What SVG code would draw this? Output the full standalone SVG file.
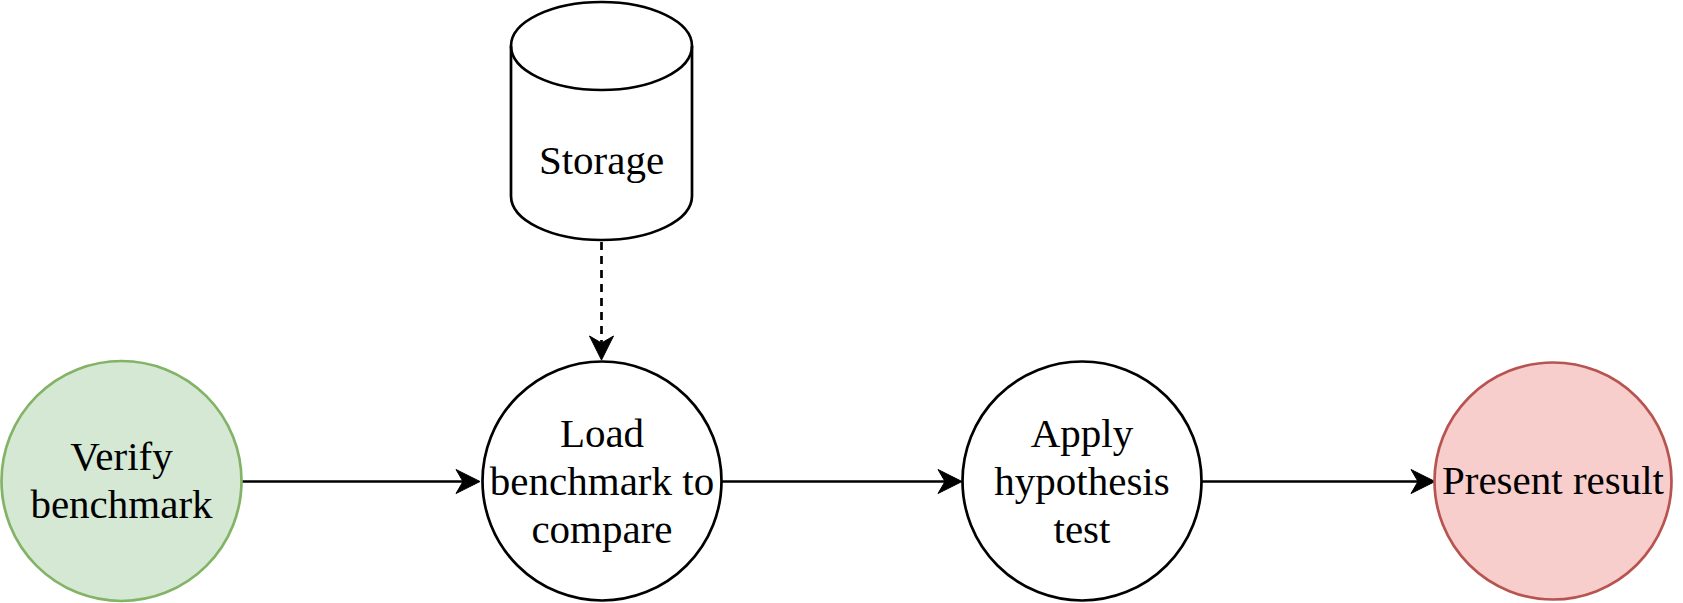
<svg xmlns="http://www.w3.org/2000/svg" width="1683" height="603" viewBox="0 0 1683 603">
<style>
  .lbl { font-family: "Liberation Serif", "Times New Roman", serif; font-size: 41px; fill: #000000; text-anchor: middle; }
  .node { stroke-width: 2.7; }
  .plain { fill: #ffffff; stroke: #000000; }
  .edge { stroke: #000000; stroke-width: 2.7; fill: none; }
  .dashed { stroke-dasharray: 8 6; }
</style>
<defs>
  <marker id="arrow" markerUnits="userSpaceOnUse" markerWidth="30" markerHeight="30" viewBox="0 0 30 30" refX="12" refY="15" orient="auto">
    <path d="M4,3 L28,15 L4,27 L11,15 Z" fill="#000000" stroke="#000000" stroke-width="1" stroke-linejoin="miter"/>
  </marker>
</defs>
<rect x="0" y="0" width="1683" height="603" fill="#ffffff"/>
<g id="connectors">
  <line class="edge" x1="242" y1="481.5" x2="464" y2="481.5" marker-end="url(#arrow)"/>
  <line class="edge" x1="722" y1="481.5" x2="946" y2="481.5" marker-end="url(#arrow)"/>
  <line class="edge" x1="1202" y1="481.5" x2="1419" y2="481.5" marker-end="url(#arrow)"/>
  <line class="edge dashed" x1="601.5" y1="242" x2="601.5" y2="344" marker-end="url(#arrow)"/>
</g>
<g id="storage">
  <path class="node plain" d="M511,46 A90.5,44 0 0 1 692,46 L692,196 A90.5,44 0 0 1 511,196 Z"/>
  <path class="node" fill="none" stroke="#000000" d="M511,46 A90.5,44 0 0 0 692,46"/>
  <text class="lbl" x="601.5" y="174">Storage</text>
</g>
<g id="verify">
  <circle class="node" cx="121.5" cy="481" r="120" fill="#d5e8d4" stroke="#82b366"/>
  <text class="lbl" x="121.5" y="470">Verify</text>
  <text class="lbl" x="121.5" y="518">benchmark</text>
</g>
<g id="load">
  <circle class="node plain" cx="602" cy="481" r="119.5"/>
  <text class="lbl" x="602" y="447">Load</text>
  <text class="lbl" x="602" y="495">benchmark to</text>
  <text class="lbl" x="602" y="543">compare</text>
</g>
<g id="apply">
  <circle class="node plain" cx="1082" cy="481" r="119.5"/>
  <text class="lbl" x="1082" y="447">Apply</text>
  <text class="lbl" x="1082" y="495">hypothesis</text>
  <text class="lbl" x="1082" y="543">test</text>
</g>
<g id="present">
  <circle class="node" cx="1553" cy="481" r="118.5" fill="#f8cecc" stroke="#b85450"/>
  <text class="lbl" x="1553" y="494">Present result</text>
</g>
</svg>
